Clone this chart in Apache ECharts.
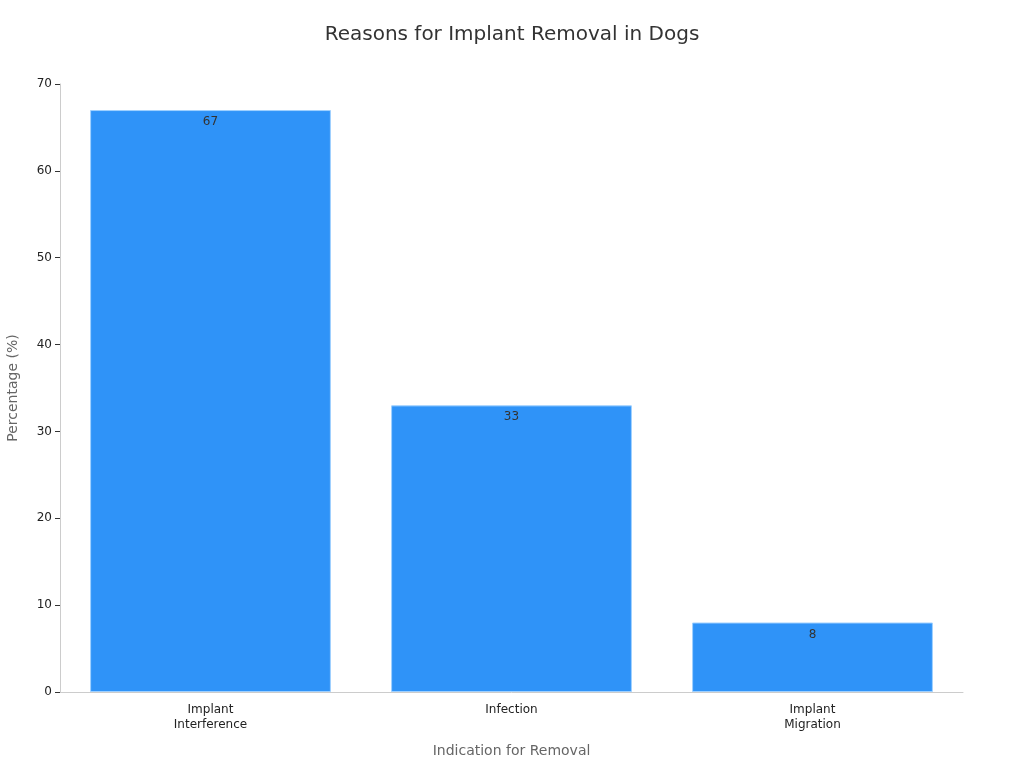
<!DOCTYPE html>
<html>
<head>
<meta charset="utf-8">
<script src="https://cdn.jsdelivr.net/npm/echarts@6/dist/echarts.min.js"></script>
<style>
  html, body { margin: 0; padding: 0; background: #fff; }
  #main { width: 1024px; height: 768px; }
</style>
</head>
<body>
<div id="main"></div>
<script>
var categories = ['Implant\nInterference', 'Infection', 'Implant\nMigration'];
var percentages = [67, 33, 8];
var yTicks = [0, 10, 20, 30, 40, 50, 60, 70];

var myChart = echarts.init(document.getElementById('main'));

var option = {
  backgroundColor: '#ffffff',
  textStyle: { fontFamily: 'DejaVu Sans' },
  title: {
    text: 'Reasons for Implant Removal in Dogs',
    left: 'center',
    top: 20,
    textStyle: { fontFamily: 'DejaVu Sans', fontSize: 20, fontWeight: 'normal', color: '#333' }
  },
  grid: { left: 60, right: 61, top: 84, bottom: 76, containLabel: false, outerBoundsMode: 'none' },
  xAxis: {
    type: 'category',
    data: categories,
    name: 'Indication for Removal',
    nameLocation: 'middle',
    nameGap: 52,
    nameTextStyle: { fontSize: 14, color: '#666' },
    axisLine: { lineStyle: { color: '#ccc' } },
    axisTick: { alignWithLabel: true, lineStyle: { color: '#333' } },
    axisLabel: { fontSize: 12, color: '#222', lineHeight: 15, margin: 10 }
  },
  yAxis: {
    type: 'value',
    min: yTicks[0],
    max: yTicks[yTicks.length - 1],
    interval: 10,
    name: 'Percentage (%)',
    nameLocation: 'middle',
    nameGap: 40,
    nameTextStyle: { fontSize: 14, color: '#666' },
    axisLine: { show: true, lineStyle: { color: '#ccc' } },
    axisTick: { show: true, lineStyle: { color: '#333' } },
    axisLabel: { fontSize: 12, color: '#222' },
    splitLine: { show: false }
  },
  series: [{
    type: 'bar',
    data: percentages,
    barWidth: '80%',
    itemStyle: { color: '#2f93f8', borderColor: '#9fd0ff', borderWidth: 1 },
    label: {
      show: true,
      position: 'insideTop',
      distance: 6,
      fontSize: 12,
      color: '#333'
    }
  }]
};

myChart.setOption(option);
</script>
</body>
</html>
